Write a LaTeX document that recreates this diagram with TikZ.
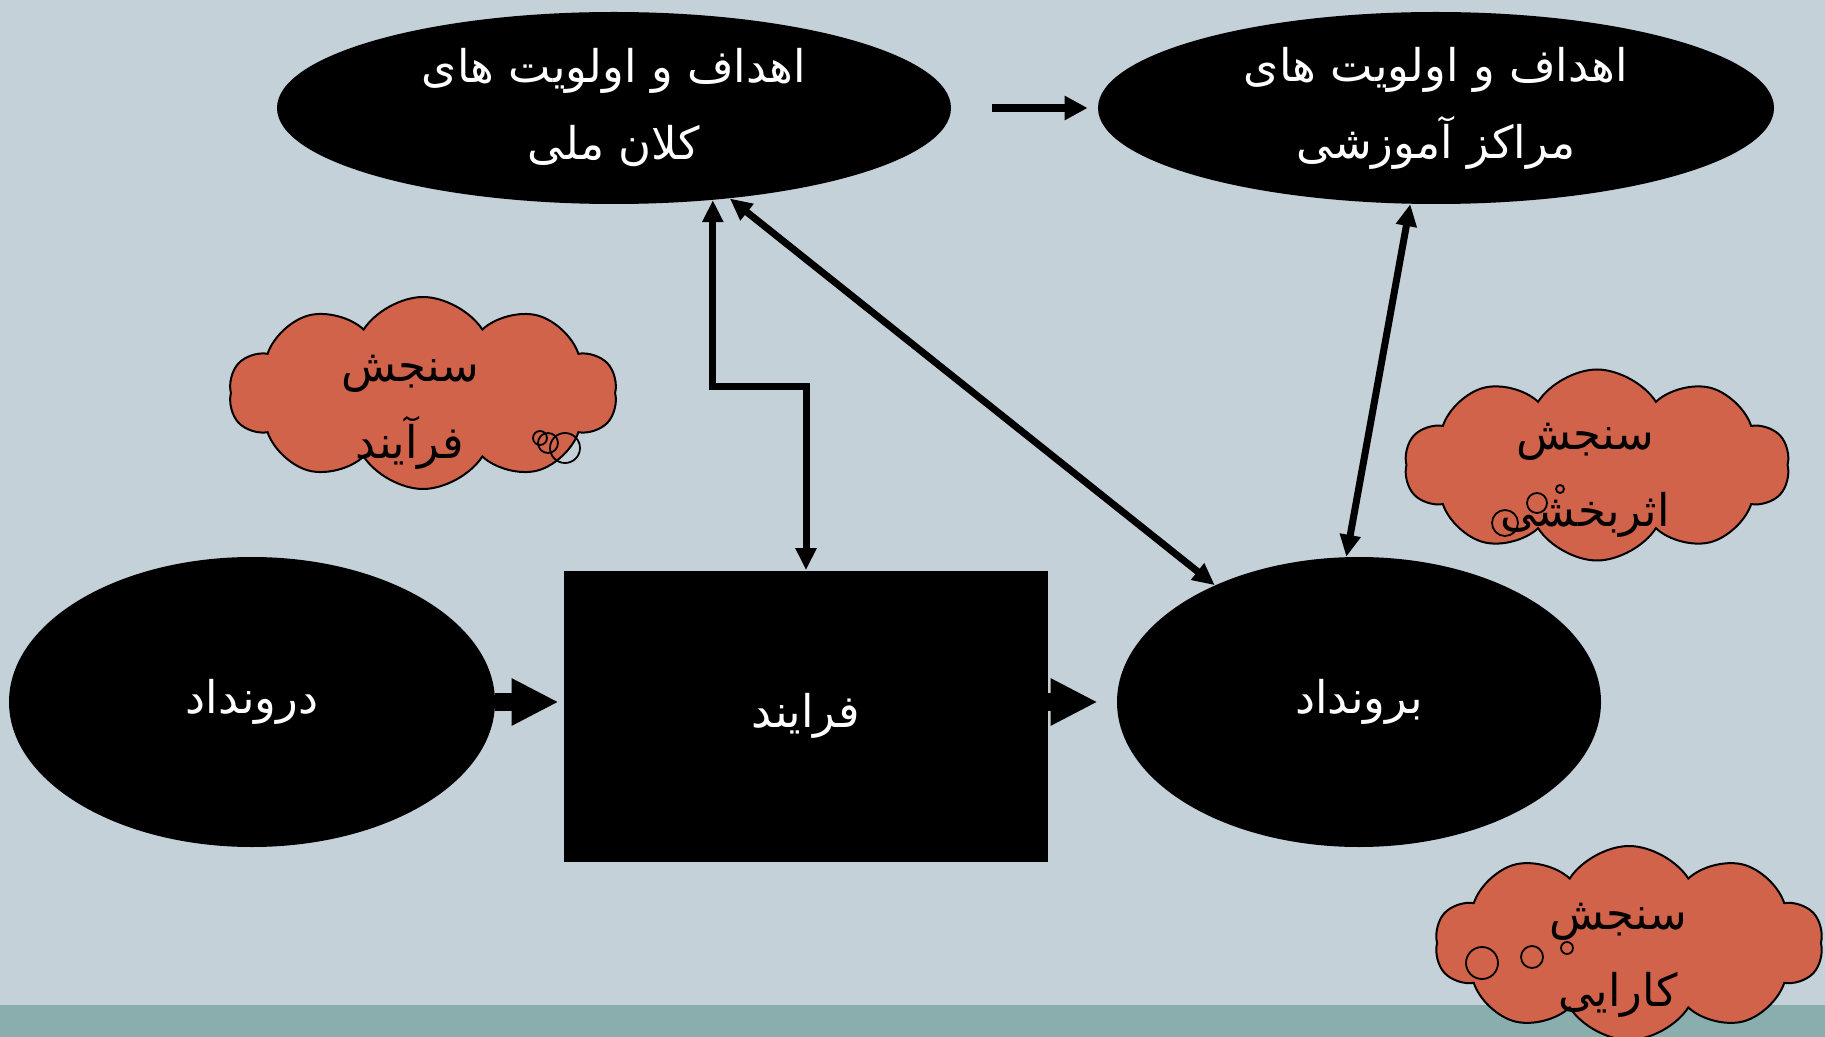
\documentclass[tikz,border=0pt]{standalone}
\usepackage{fontspec}
\usetikzlibrary{shapes.geometric,shapes.symbols,arrows.meta,calc}
\TeXXeTstate=1
\newfontfamily\arabicfont[Script=Arabic]{DejaVu Sans}
\definecolor{bg}{HTML}{C5D1D8}
\definecolor{strip}{HTML}{8AADAE}
\definecolor{cloudc}{HTML}{D1634A}
\begin{document}
\begin{tikzpicture}[x=0.5pt,y=-0.5pt,
  txt/.style={font=\arabicfont\fontsize{22.5}{38.5}\selectfont, align=center, inner sep=0pt},
  blackell/.style={ellipse, fill=black, inner sep=0pt, text=white, txt},
  blackbox/.style={rectangle, fill=black, inner sep=0pt, text=white, txt},
  cloudbox/.style={cloud, cloud puffs=10, cloud puff arc=115, cloud ignores aspect, draw=black, line width=1pt, fill=cloudc, inner sep=0pt},
  cloudtxt/.style={txt, text=black},
  bubble/.style={draw=black, line width=0.9pt},
  thin/.style={line width=3.5pt, {Triangle[length=11pt,width=10pt]}-{Triangle[length=11pt,width=10pt]}},
  block/.style={line width=9pt, -{Triangle[length=23.5pt,width=22pt]}}
]
\useasboundingbox (0,0) rectangle (1825,1037);
\clip (0,0) rectangle (1825,1037);
\fill[bg] (0,0) rectangle (1825,1037);
\fill[strip] (0,1005) rectangle (1825,1037);

% top ellipses
\node[blackell, minimum width=337pt, minimum height=96pt] (tl) at (614,108)
  {\beginR اهداف و اولویت های\endR\\\beginR کلان ملی\endR};
\node[blackell, minimum width=338pt, minimum height=96pt] (tr) at (1436,108)
  {\beginR اهداف و اولویت های\endR\\\beginR مراکز آموزشی\endR};

% middle row
\node[blackell, minimum width=243pt, minimum height=145pt] (le) at (252,702)
  {\beginR درونداد\endR};
\node[blackbox, minimum width=242pt, minimum height=145.5pt] (rect) at (806,716)
  {\beginR فرایند\endR};
\node[blackell, minimum width=242pt, minimum height=145pt] (re) at (1359,702)
  {\beginR برونداد\endR};

% block arrows
\draw[block, shorten >=2.5pt] (le.east) -- (le.east -| rect.west);
\draw[block, shorten >=9.5pt] (rect.east |- re.west) -- (re.west);
\draw[line width=4pt, -{Triangle[length=11.5pt,width=11.5pt]}, shorten <=20.5pt, shorten >=5pt] (tl.east) -- (tr.west);

% thin double arrows
\draw[thin] (tl.-43.5) |- ($(rect.north)+(0,92pt)$) -- (rect.north);
\draw[thin] (tl.-38.4) -- (re.141);
\draw[thin] (tr.-105) -- (re.95.5);

% clouds
\node[cloudbox, minimum width=194pt, minimum height=96pt] (c1) at (423,393) {};
\draw[bubble] (540,438) circle[radius=3.5pt];
\draw[bubble] (548,443) circle[radius=5pt];
\draw[bubble] (565,448) circle[radius=7.5pt];
\node[cloudtxt] (t1) at (410,412) {\beginR سنجش\endR\\\beginR فرآیند\endR};

\node[cloudbox, minimum width=192.5pt, minimum height=95.5pt] (c2) at (1597,465) {};
\draw[bubble] (1560,489) circle[radius=2pt];
\draw[bubble] (1537,503) circle[radius=5pt];
\draw[bubble] (1505,523) circle[radius=6.5pt];
\node[cloudtxt] (t2) at (1585,480) {\beginR سنجش\endR\\\beginR اثربخشی\endR};

\node[cloudbox, minimum width=194pt, minimum height=97pt] (c3) at (1629,943) {};
\draw[bubble] (1482,963) circle[radius=8pt];
\draw[bubble] (1532,957) circle[radius=5.5pt];
\draw[bubble] (1567,948) circle[radius=3pt];
\node[cloudtxt] (t3) at (1618,960) {\beginR سنجش\endR\\\beginR کارایی\endR};
\end{tikzpicture}
\end{document}
